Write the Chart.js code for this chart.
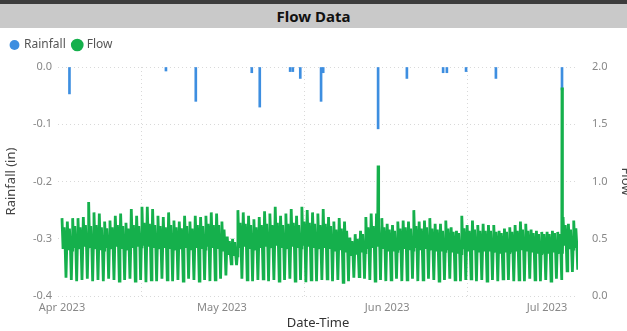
<!DOCTYPE html>
<html>
<head>
<meta charset="utf-8">
<script src="https://cdn.jsdelivr.net/npm/chart.js@4.4.0/dist/chart.umd.min.js"></script>
<style>
  html, body { margin: 0; padding: 0; background: #fff; overflow: hidden; width: 627px; height: 331px; }
  #head { height: 24px; border-top: 4px solid #3c3c3c; background: #c9c9c9; text-align: center;
          font: bold 15px "Noto Sans", sans-serif; line-height: 24px; color: #111; }
  #wrap { position: absolute; left: 0; top: 28px; width: 634px; height: 303px; }
</style>
</head>
<body>
<div id="head">Flow Data</div>
<div id="wrap"><canvas id="c"></canvas></div>
<script>
// x values are days since 1 Apr 2023
const monthTicks = [0, 30, 61, 91];
const monthLabels = ['Apr 2023', 'May 2023', 'Jun 2023', 'Jul 2023'];

// rainfall events (plotted downward, in)
const rainDays = [1.4, 19.5, 25.1, 35.6, 37.1, 42.8, 43.3, 44.7, 48.6, 49.0, 59.3, 64.7, 71.5, 72.2, 75.8, 81.4, 93.8];
const rainValues = [-0.047, -0.007, -0.06, -0.01, -0.07, -0.008, -0.008, -0.02, -0.06, -0.01, -0.108, -0.02, -0.01, -0.01, -0.008, -0.02, -0.04];

// daily flow: peak, daytime level, base level around the night dip, night low
const flowPeak = [
  0.68, 0.65, 0.68, 0.68, 0.69, 0.82, 0.73, 0.72, 0.65, 0.66,
  0.70, 0.72, 0.64, 0.76, 0.70, 0.78, 0.78, 0.76, 0.70, 0.69,
  0.73, 0.66, 0.65, 0.70, 0.65, 0.70, 0.69, 0.70, 0.73, 0.72,
  0.65, 0.52, 0.50, 0.75, 0.73, 0.70, 0.67, 0.69, 0.74, 0.72,
  0.78, 0.70, 0.72, 0.76, 0.70, 0.78, 0.75, 0.73, 0.72, 0.76,
  0.69, 0.65, 0.68, 0.65, 0.51, 0.54, 0.57, 0.69, 0.72, 0.72,
  0.68, 0.63, 0.62, 0.65, 0.66, 0.65, 0.75, 0.65, 0.66, 0.68,
  0.63, 0.63, 0.66, 0.60, 0.57, 0.70, 0.62, 0.66, 0.62, 0.63,
  0.62, 0.62, 0.57, 0.59, 0.60, 0.62, 0.65, 0.63, 0.58, 0.57,
  0.56, 0.56, 0.57, 0.56, 0.69, 0.63, 0.66
];
const flowUpper = [
  0.60, 0.59, 0.61, 0.60, 0.62, 0.61, 0.62, 0.60, 0.59, 0.60,
  0.62, 0.61, 0.59, 0.62, 0.61, 0.64, 0.63, 0.62, 0.61, 0.60,
  0.62, 0.60, 0.59, 0.61, 0.59, 0.62, 0.61, 0.63, 0.62, 0.62,
  0.58, 0.48, 0.47, 0.64, 0.63, 0.62, 0.60, 0.62, 0.63, 0.62,
  0.64, 0.62, 0.63, 0.64, 0.62, 0.65, 0.64, 0.63, 0.62, 0.63,
  0.61, 0.58, 0.59, 0.57, 0.48, 0.50, 0.54, 0.60, 0.61, 0.62,
  0.60, 0.58, 0.57, 0.59, 0.60, 0.59, 0.61, 0.59, 0.60, 0.59,
  0.58, 0.57, 0.59, 0.56, 0.55, 0.59, 0.57, 0.58, 0.57, 0.57,
  0.57, 0.56, 0.55, 0.56, 0.56, 0.57, 0.58, 0.57, 0.55, 0.54,
  0.54, 0.54, 0.55, 0.54, 0.62, 0.58, 0.59
];
const flowMid = [
  0.41, 0.40, 0.42, 0.41, 0.43, 0.42, 0.41, 0.40, 0.42, 0.41,
  0.43, 0.41, 0.40, 0.42, 0.43, 0.44, 0.43, 0.42, 0.41, 0.42,
  0.41, 0.40, 0.41, 0.42, 0.40, 0.42, 0.41, 0.43, 0.42, 0.41,
  0.39, 0.36, 0.35, 0.42, 0.43, 0.41, 0.40, 0.42, 0.43, 0.42,
  0.44, 0.42, 0.41, 0.43, 0.42, 0.44, 0.43, 0.42, 0.41, 0.42,
  0.41, 0.39, 0.40, 0.38, 0.35, 0.36, 0.38, 0.41, 0.42, 0.43,
  0.41, 0.39, 0.39, 0.40, 0.41, 0.40, 0.42, 0.40, 0.41, 0.40,
  0.39, 0.39, 0.40, 0.38, 0.37, 0.41, 0.39, 0.40, 0.38, 0.39,
  0.39, 0.38, 0.37, 0.38, 0.38, 0.39, 0.40, 0.39, 0.38, 0.37,
  0.37, 0.37, 0.38, 0.37, 0.44, 0.41, 0.42
];
const flowLow = [
  0.16, 0.14, 0.13, 0.14, 0.15, 0.13, 0.14, 0.13, 0.15, 0.14,
  0.13, 0.14, 0.15, 0.13, 0.14, 0.12, 0.14, 0.13, 0.15, 0.14,
  0.13, 0.14, 0.13, 0.15, 0.14, 0.13, 0.14, 0.13, 0.14, 0.15,
  0.18, 0.28, 0.27, 0.15, 0.14, 0.13, 0.14, 0.15, 0.13, 0.14,
  0.13, 0.14, 0.15, 0.13, 0.14, 0.12, 0.14, 0.13, 0.14, 0.15,
  0.13, 0.14, 0.12, 0.13, 0.16, 0.17, 0.15, 0.14, 0.13, 0.14,
  0.13, 0.14, 0.15, 0.13, 0.14, 0.15, 0.13, 0.14, 0.15, 0.14,
  0.13, 0.14, 0.15, 0.14, 0.13, 0.14, 0.15, 0.13, 0.14, 0.13,
  0.14, 0.13, 0.15, 0.14, 0.13, 0.14, 0.13, 0.15, 0.14, 0.13,
  0.14, 0.13, 0.15, 0.14, 0.22, 0.21, 0.23
];
// storm peaks
const flowSpikeDays = [59.3, 93.8];
const flowSpikeValues = [1.14, 1.82];

const rainPoints = rainDays.map((d, i) => ({ x: d, y: rainValues[i] }));

// each day: morning peak, daytime level, then the night dip
const flowPoints = [];
flowPeak.forEach((p, d) => {
  flowPoints.push(
    { x: d, y: p },
    { x: d + 0.2, y: flowMid[d] },
    { x: d + 0.4, y: flowUpper[d] },
    { x: d + 0.6, y: flowMid[d] },
    { x: d + 0.75, y: flowLow[d] },
    { x: d + 0.88, y: flowMid[d] }
  );
});
flowSpikeDays.forEach((d, i) => flowPoints.push({ x: d, y: flowSpikeValues[i] }));
flowPoints.sort((a, b) => a.x - b.x);

const font = 'Noto Sans';
const tickFont = { family: font, size: 11 };
const titleFont = { family: font, size: 13 };

// extra space under the legend
const legendGap = {
  id: 'legendGap',
  beforeInit(chart) {
    const fit = chart.legend.fit;
    chart.legend.fit = function () { fit.call(this); this.height += 6; };
  }
};

new Chart(document.getElementById('c'), {
  type: 'line',
  data: {
    datasets: [{
      type: 'bar',
      label: 'Rainfall',
      data: rainPoints,
      yAxisID: 'y',
      backgroundColor: '#3d8ee0',
      borderWidth: 0,
      barThickness: 2,
      order: 2
    }, {
      label: 'Flow',
      data: flowPoints,
      yAxisID: 'y1',
      borderColor: '#15b04c',
      backgroundColor: '#15b04c',
      borderWidth: 2.8,
      pointRadius: 0,
      tension: 0,
      order: 1
    }]
  },
  plugins: [legendGap],
  options: {
    responsive: true,
    maintainAspectRatio: false,
    animation: false,
    layout: { padding: { top: 3, left: 3, right: 0, bottom: 0 } },
    plugins: {
      tooltip: { enabled: false },
      legend: {
        position: 'top',
        align: 'start',
        labels: {
          usePointStyle: true,
          pointStyle: 'circle',
          boxWidth: 7,
          boxHeight: 7,
          padding: 8,
          color: '#555',
          font: { family: font, size: 12 },
          sort: (a, b) => a.datasetIndex - b.datasetIndex
        }
      }
    },
    scales: {
      x: {
        type: 'linear',
        min: -0.75,
        max: 96.8,
        offset: false,
        afterBuildTicks: s => { s.ticks = monthTicks.map(v => ({ value: v })); },
        afterFit: s => { s.height = 35; },
        ticks: {
          autoSkip: false,
          maxRotation: 0,
          color: '#888',
          font: tickFont,
          padding: 5,
          callback: v => monthLabels[monthTicks.indexOf(v)]
        },
        grid: { color: '#d9d9d9', drawTicks: false },
        border: { display: false, dash: [1, 3] },
        title: { display: true, text: 'Date-Time', color: '#333', font: titleFont, padding: 0 }
      },
      y: {
        position: 'left',
        min: -0.4,
        max: 0,
        afterFit: s => { s.width = 55; },
        ticks: { stepSize: 0.1, color: '#888', font: tickFont, padding: 6, callback: v => v.toFixed(1) },
        grid: { color: '#d9d9d9', drawTicks: false },
        border: { display: false, dash: [1, 3] },
        title: { display: true, text: 'Rainfall (in)', color: '#444', font: titleFont, padding: 0 }
      },
      y1: {
        position: 'right',
        min: 0,
        max: 2,
        afterFit: s => { s.width = 56; },
        ticks: { stepSize: 0.5, color: '#888', font: tickFont, padding: 6, callback: v => v.toFixed(1) },
        grid: { display: false },
        border: { display: false },
        title: { display: true, text: 'Flow', color: '#444', font: titleFont, padding: 0 }
      }
    }
  }
});
</script>
</body>
</html>
